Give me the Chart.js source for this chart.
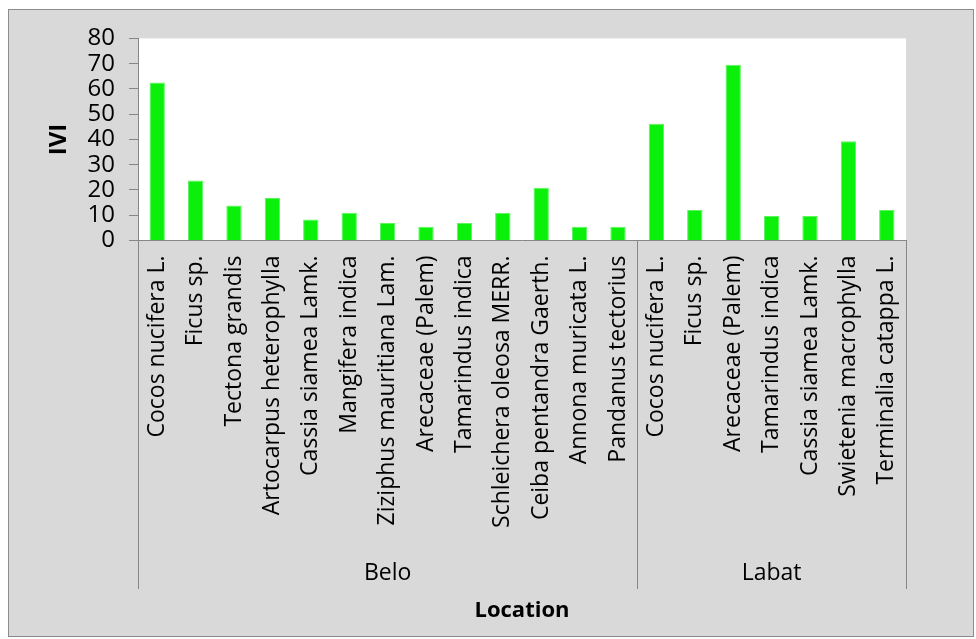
<!DOCTYPE html>
<html>
<head>
<meta charset="utf-8">
<script src="https://cdn.jsdelivr.net/npm/chart.js@4"></script>
<style>
  body { margin: 0; background: #fff; }
  #frame {
    position: absolute; left: 8px; top: 9px;
    width: 964px; height: 626px;
    border: 1px solid #8c8c8c; background: #d9d9d9;
  }
  #chart { display: block; }
</style>
</head>
<body>
<div id="frame"><canvas id="chart" width="964" height="626"></canvas></div>
<script>
// Species per location, in the order they are plotted
const beloSpecies = ['Cocos nucifera L.', 'Ficus sp.', 'Tectona grandis', 'Artocarpus heterophylla',
    'Cassia siamea Lamk.', 'Mangifera indica', 'Ziziphus mauritiana Lam.', 'Arecaceae (Palem)',
    'Tamarindus indica', 'Schleichera oleosa MERR.', 'Ceiba pentandra Gaerth.', 'Annona muricata L.',
    'Pandanus tectorius'];
const labatSpecies = ['Cocos nucifera L.', 'Ficus sp.', 'Arecaceae (Palem)', 'Tamarindus indica',
    'Cassia siamea Lamk.', 'Swietenia macrophylla', 'Terminalia catappa L.'];

// IVI values
const beloIVI = [62.5, 23.8, 13.9, 16.8, 8.3, 11.0, 6.9, 5.4, 6.9, 11.0, 20.9, 5.4, 5.4];
const labatIVI = [46.2, 12.1, 69.6, 9.7, 9.7, 39.3, 12.1];

const groupNames = ['Belo', 'Labat'];
const groupSizes = [beloSpecies.length, labatSpecies.length];

const yTicks = [0, 10, 20, 30, 40, 50, 60, 70, 80];

const axisColor = '#868686';
const font = "'Open Sans', sans-serif";

// white plot area + grouped category labels
const groupPlugin = {
    id: 'groups',
    beforeDraw(chart) {
        const {ctx, chartArea: a} = chart;
        ctx.save();
        ctx.fillStyle = '#ffffff';
        ctx.fillRect(a.left, a.top, a.right - a.left, a.bottom - a.top);
        ctx.restore();
    },
    afterDraw(chart) {
        const {ctx} = chart;
        const x = chart.scales.x;
        const bottomLine = 579;
        const labelY = 563;
        const edge = i => {
            if (i <= 0) return x.left;
            if (i >= x.ticks.length) return x.right;
            return (x.getPixelForValue(i - 1) + x.getPixelForValue(i)) / 2;
        };
        ctx.save();
        ctx.strokeStyle = axisColor;
        ctx.lineWidth = 1;
        ctx.fillStyle = '#000';
        ctx.font = '23px ' + font;
        ctx.textAlign = 'center';
        ctx.textBaseline = 'middle';
        let start = 0;
        groupSizes.forEach((n, g) => {
            const x0 = edge(start), x1 = edge(start + n);
            [x0, x1].forEach(px => {
                ctx.beginPath();
                ctx.moveTo(Math.round(px) + 0.5, x.top);
                ctx.lineTo(Math.round(px) + 0.5, bottomLine);
                ctx.stroke();
            });
            ctx.fillText(groupNames[g], (x0 + x1) / 2, labelY);
            start += n;
        });
        ctx.restore();
    }
};

const ctx = document.getElementById('chart').getContext('2d');
new Chart(ctx, {
    type: 'bar',
    data: {
        labels: beloSpecies.concat(labatSpecies),
        datasets: [{
            label: 'IVI',
            data: beloIVI.concat(labatIVI),
            backgroundColor: '#0af00a',
            borderColor: '#5cf55c',
            borderWidth: 1,
            categoryPercentage: 1,
            barPercentage: 0.4
        }]
    },
    options: {
        responsive: false,
        animation: false,
        layout: { padding: { top: 27, right: 67, left: 0, bottom: 0 } },
        plugins: { legend: { display: false }, tooltip: { enabled: false } },
        scales: {
            x: {
                grid: { display: false, drawTicks: false },
                border: { display: true, color: axisColor, width: 1 },
                ticks: {
                    autoSkip: false, minRotation: 90, maxRotation: 90,
                    padding: 15, color: '#000',
                    font: { family: font, size: 23 }
                },
                title: {
                    display: true, text: 'Location', color: '#000',
                    font: { family: font, size: 22, weight: 'bold' },
                    padding: { top: 0, bottom: 12 }
                },
                afterFit(scale) { scale.height = 395.5; }
            },
            y: {
                min: 0, max: 80,
                afterBuildTicks(scale) { scale.ticks = yTicks.map(v => ({ value: v })); },
                grid: { drawOnChartArea: false, drawTicks: true, tickLength: 9, color: axisColor },
                border: { display: true, color: axisColor, width: 1 },
                ticks: {
                    autoSkip: false, padding: 14, color: '#000',
                    font: { family: font, size: 24 }
                },
                title: {
                    display: true, text: 'IVI', color: '#000',
                    font: { family: font, size: 24, weight: 'bold' },
                    padding: { top: 36, bottom: 0 }
                },
                afterFit(scale) { scale.width = 129; }
            }
        }
    },
    plugins: [groupPlugin]
});
</script>
</body>
</html>
